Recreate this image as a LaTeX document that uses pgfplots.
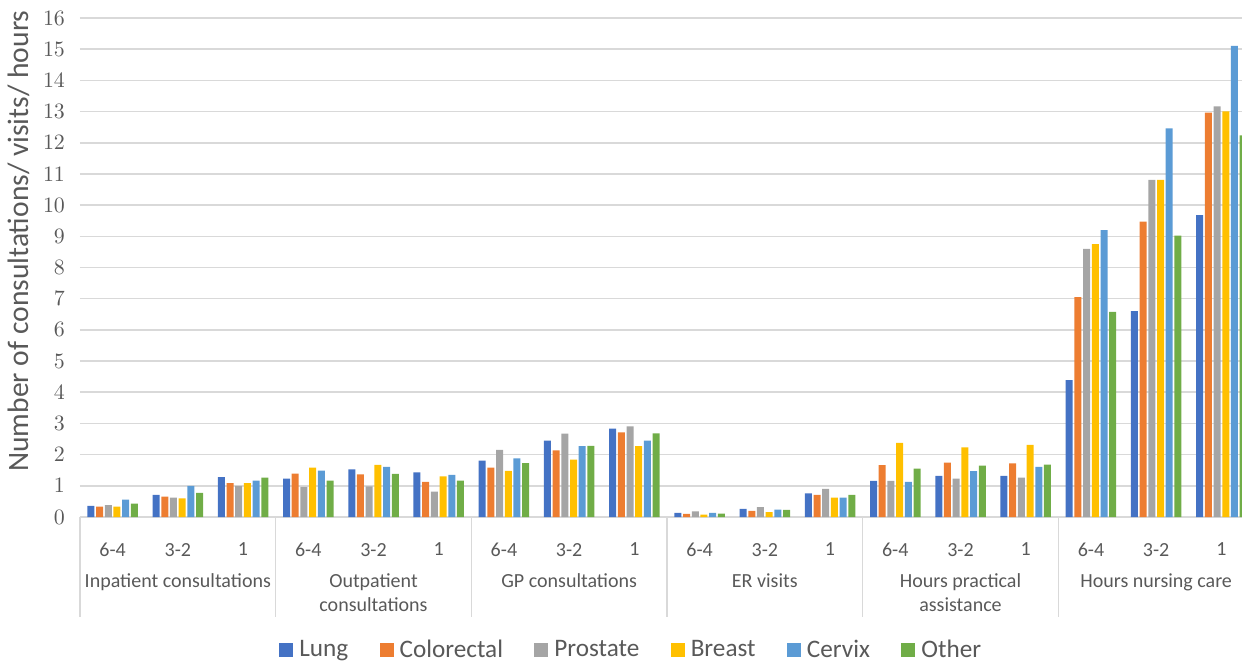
\documentclass[border=0pt]{standalone}
\usepackage{pgfplots}
\pgfplotsset{compat=1.18}
\usepackage{pgfplotstable}
\usepackage{fontspec}
\setmainfont{Carlito}
\definecolor{cLung}{HTML}{4472C4}
\definecolor{cCol}{HTML}{ED7D31}
\definecolor{cPro}{HTML}{A5A5A5}
\definecolor{cBr}{HTML}{FFC000}
\definecolor{cCx}{HTML}{5B9BD5}
\definecolor{cOth}{HTML}{70AD47}
\definecolor{txt}{HTML}{595959}
\definecolor{grd}{HTML}{D9D9D9}
\pgfplotstableread{
x Lung Col Pro Br Cx Oth
0  0.36 0.33 0.38 0.33 0.56 0.43
1  0.71 0.65 0.62 0.60 1.00 0.77
2  1.28 1.09 1.00 1.09 1.17 1.26
3  1.23 1.39 0.97 1.58 1.49 1.17
4  1.53 1.37 0.98 1.67 1.61 1.38
5  1.43 1.13 0.81 1.30 1.35 1.17
6  1.81 1.58 2.15 1.48 1.88 1.73
7  2.45 2.14 2.67 1.84 2.27 2.28
8  2.83 2.71 2.91 2.27 2.45 2.68
9  0.13 0.10 0.18 0.08 0.13 0.11
10 0.26 0.20 0.32 0.16 0.24 0.23
11 0.76 0.71 0.90 0.62 0.62 0.71
12 1.16 1.66 1.16 2.38 1.13 1.55
13 1.32 1.74 1.23 2.23 1.47 1.65
14 1.32 1.72 1.26 2.31 1.61 1.68
15 4.39 7.05 8.60 8.75 9.20 6.58
16 6.60 9.47 10.81 10.81 12.46 9.02
17 9.68 12.97 13.17 13.01 15.11 12.24
}\data
\begin{document}
\begin{tikzpicture}
\path[use as bounding box] (-40pt,-72pt) rectangle (581pt,258.5pt);
\clip (-40pt,-72pt) rectangle (581pt,258.5pt);
\begin{axis}[
  at={(0,0)}, anchor=south west,
  scale only axis, width=587pt, height=249.5pt,
  xmin=-0.5, xmax=17.5, ymin=0, ymax=16,
  ytick={0,1,...,16},
  xtick={0,...,17},
  xticklabels={6-4,3-2,1,6-4,3-2,1,6-4,3-2,1,6-4,3-2,1,6-4,3-2,1,6-4,3-2,1},
  major tick length=0pt,
  axis line style={draw=none},
  ymajorgrids, grid style={grd, line width=0.8pt},
  tick label style={font=\fontsize{10}{12}\selectfont, text=txt},
  yticklabel style={xshift=-4pt, font=\fontsize{10.5}{12}\selectfont},
  xticklabel style={yshift=-9.5pt},
  ybar=0.85pt, bar width=3.5pt,
  clip=false,
  legend style={draw=none, at={(0.4712,-0.2665)}, anchor=center,
    font=\fontsize{12.6}{14}\selectfont, text=txt,
    nodes={inner xsep=3pt, inner ysep=1pt},
    /tikz/every even column/.append style={column sep=12.7pt}},
  legend cell align=left,
  legend columns=-1,
  legend image code/.code={\fill[#1] (0pt,-3.5pt) rectangle (7pt,3.5pt);},
]
\addplot[fill=cLung, draw=none] table[x=x,y=Lung]{\data};
\addplot[fill=cCol, draw=none] table[x=x,y=Col]{\data};
\addplot[fill=cPro, draw=none] table[x=x,y=Pro]{\data};
\addplot[fill=cBr, draw=none] table[x=x,y=Br]{\data};
\addplot[fill=cCx, draw=none] table[x=x,y=Cx]{\data};
\addplot[fill=cOth, draw=none] table[x=x,y=Oth]{\data};
\legend{Lung,Colorectal,Prostate,Breast,Cervix,Other}
\foreach \b in {-0.5,2.5,5.5,8.5,11.5,14.5,17.5}{
  \edef\tmp{\noexpand\draw[grd, line width=0.8pt] (axis cs:\b,0) -- ++(0pt,-50pt);}\tmp
}
\foreach \c/\t in {1/{Inpatient consultations},4/{Outpatient\\consultations},7/{GP consultations},10/{ER visits},13/{Hours practical\\assistance},16/{Hours nursing care}}{
  \edef\tmp{\noexpand\node[anchor=north, align=center, text=txt, font=\noexpand\fontsize{10}{12}\noexpand\selectfont] at (axis cs:\c,0) [yshift=-25pt] {\unexpanded\expandafter{\t}};}\tmp
}
\node[rotate=90, text=txt, font=\fontsize{14.8}{17}\selectfont] at (axis description cs:-0.0525,0.553) {Number of consultations/ visits/ hours};
\end{axis}
\end{tikzpicture}
\end{document}
